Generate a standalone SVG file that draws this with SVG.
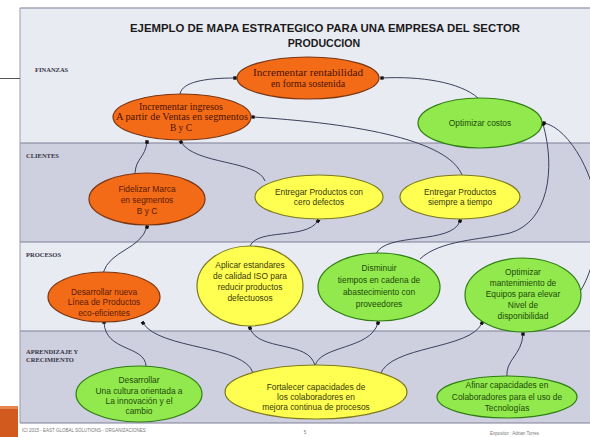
<svg xmlns="http://www.w3.org/2000/svg" width="590" height="437" viewBox="0 0 590 437">
<style>
.band-l{fill:#e9ebf2}
.band-d{fill:#cfd0df}
.sep{stroke:#7e7f95;stroke-width:1.2}
.lbl{font-family:"Liberation Serif",serif;font-weight:bold;font-size:6.5px;fill:#333344}
.title{font-family:"Liberation Sans",Arial,sans-serif;font-weight:bold;font-size:10.6px;fill:#1a1a1a;text-anchor:middle}
.or{fill:#f36b17;stroke:#7a3512;stroke-width:1.2}
.ye{fill:#ffff52;stroke:#7d7a1e;stroke-width:1.2}
.gr{fill:#92e94e;stroke:#2f7d14;stroke-width:1.2}
.t{font-family:"Liberation Sans",Arial,sans-serif;font-size:8.4px;text-anchor:middle}
.ts{font-family:"Liberation Serif",serif;font-size:9.5px;text-anchor:middle;fill:#4a1200}
.to{fill:#5a1a05}
.ty{fill:#3a3a10}
.tg{fill:#1d4a08}
.c{fill:none;stroke:#3b405c;stroke-width:1;marker-end:url(#dot)}
.foot{font-family:"Liberation Sans",Arial,sans-serif;font-size:4.5px;fill:#777}
</style>
<defs>
<marker id="dot" markerWidth="4" markerHeight="4" refX="2" refY="2" markerUnits="userSpaceOnUse" orient="auto">
<rect x="0.3" y="0.3" width="3.4" height="3.4" fill="#111"/>
</marker>
</defs>
<rect x="0" y="0" width="590" height="437" fill="#ffffff"/>
<g id="bands">
<rect class="band-l" x="20" y="8" width="570" height="135"/>
<rect class="band-d" x="20" y="143" width="570" height="99"/>
<rect class="band-l" x="20" y="242" width="570" height="89"/>
<rect class="band-d" x="20" y="331" width="570" height="92"/>
<line class="sep" x1="20" y1="8" x2="590" y2="8"/>
<line class="sep" x1="20" y1="143" x2="590" y2="143"/>
<line class="sep" x1="20" y1="242" x2="590" y2="242"/>
<line class="sep" x1="20" y1="331" x2="590" y2="331"/>
<line class="sep" x1="20" y1="423" x2="590" y2="423"/>
<line x1="20" y1="8" x2="20" y2="423" stroke="#9a9bb0" stroke-width="1"/>
<line x1="0" y1="78.5" x2="20" y2="78.5" stroke="#555" stroke-width="1"/>
<rect x="0" y="406" width="18" height="31" fill="#d25a1f"/>
<rect x="0" y="406" width="18" height="3" fill="#e4864e"/>
</g>
<g id="title">
<text class="title" x="325" y="32" textLength="390" lengthAdjust="spacingAndGlyphs">EJEMPLO DE MAPA ESTRATEGICO  PARA UNA EMPRESA DEL SECTOR</text>
<text class="title" x="324" y="47">PRODUCCION</text>
</g>
<g id="labels">
<text class="lbl" x="35" y="72">FINANZAS</text>
<text class="lbl" x="26" y="158">CLIENTES</text>
<text class="lbl" x="26" y="257">PROCESOS</text>
<text class="lbl" x="26" y="354">APRENDIZAJE Y</text>
<text class="lbl" x="26" y="362">CRECIMIENTO</text>
</g>
<g id="connectors">
<path class="c" d="M180 94 C182 82 205 78 235 78"/>
<path class="c" d="M478 98 C460 82 420 76 382 78"/>
<path class="c" d="M462 175 C450 145 380 125 253 117"/>
<path class="c" d="M135 173 C136 158 145 158 147 142"/>
<path class="c" d="M265 181 C258 160 195 165 181 142"/>
<path class="c" d="M103 273 C110 250 140 250 147 227"/>
<path class="c" d="M250 246 C258 228 305 240 318 221"/>
<path class="c" d="M376 254 C385 232 452 245 460 221"/>
<path class="c" d="M420 259 C440 240 480 240 510 233 C548 222 556 170 543 124"/>
<path class="c" d="M581 290 C590 275 598 250 598 220 C598 180 570 128 544 123"/>
<path class="c" d="M315 366 C320 345 370 350 378 323"/>
<path class="c" d="M380 375 C390 345 470 350 482 323"/>
<path class="c" d="M507 377 C505 360 522 355 523 334"/>
<path class="c" d="M146 366 C145 345 105 352 104 322"/>
<path class="c" d="M253 373 C245 345 160 350 143 323"/>
<path class="c" d="M315 366 C310 340 258 352 250 328"/>
</g>
<g id="n1"><ellipse class="or" cx="308" cy="78" rx="71" ry="21"/>
<text class="ts" font-size="10.5"><tspan x="308" y="76" textLength="110" lengthAdjust="spacingAndGlyphs">Incrementar rentabilidad</tspan><tspan x="308" y="87" textLength="74" lengthAdjust="spacingAndGlyphs">en forma sostenida</tspan></text></g>
<g id="n2"><ellipse class="or" cx="182" cy="117" rx="69" ry="23"/>
<text class="ts"><tspan x="181" y="110" textLength="84" lengthAdjust="spacingAndGlyphs">Incrementar ingresos</tspan><tspan x="182" y="120" textLength="132" lengthAdjust="spacingAndGlyphs">A partir de Ventas en segmentos</tspan><tspan x="181" y="131">B y C</tspan></text></g>
<g id="n3"><ellipse class="gr" cx="480" cy="123" rx="62" ry="25"/>
<text class="t tg" x="480" y="126">Optimizar costos</text></g>
<g id="n4"><ellipse class="or" cx="147" cy="199" rx="58" ry="26"/>
<text class="t to"><tspan x="147" y="192">Fidelizar Marca</tspan><tspan x="147" y="203">en segmentos</tspan><tspan x="147" y="214">B y C</tspan></text></g>
<g id="n5"><ellipse class="ye" cx="319" cy="197" rx="64" ry="22"/>
<text class="t ty"><tspan x="319" y="195">Entregar Productos con</tspan><tspan x="319" y="205">cero defectos</tspan></text></g>
<g id="n6"><ellipse class="ye" cx="460" cy="197" rx="60" ry="22"/>
<text class="t ty"><tspan x="460" y="195">Entregar Productos</tspan><tspan x="460" y="205">siempre a tiempo</tspan></text></g>
<g id="n7"><ellipse class="or" cx="104" cy="297" rx="56" ry="25"/>
<text class="t to"><tspan x="104" y="295">Desarrollar nueva</tspan><tspan x="104" y="305">Línea de Productos</tspan><tspan x="104" y="316">eco-eficientes</tspan></text></g>
<g id="n8"><ellipse class="ye" cx="250" cy="286" rx="53" ry="40"/>
<text class="t ty"><tspan x="250" y="268">Aplicar estandares</tspan><tspan x="250" y="279">de calidad ISO para</tspan><tspan x="250" y="290">reducir productos</tspan><tspan x="250" y="301">defectuosos</tspan></text></g>
<g id="n9"><ellipse class="gr" cx="379" cy="287" rx="61" ry="34"/>
<text class="t tg"><tspan x="379" y="271">Disminuir</tspan><tspan x="379" y="283">tiempos en cadena de</tspan><tspan x="379" y="295">abastecimiento con</tspan><tspan x="379" y="307">proveedores</tspan></text></g>
<g id="n10"><ellipse class="gr" cx="523" cy="295" rx="58" ry="37"/>
<text class="t tg"><tspan x="523" y="275">Optimizar</tspan><tspan x="523" y="286">mantenimiento de</tspan><tspan x="523" y="297">Equipos para elevar</tspan><tspan x="523" y="308">Nivel de</tspan><tspan x="523" y="319">disponibilidad</tspan></text></g>
<g id="n11"><ellipse class="gr" cx="139" cy="394" rx="63" ry="28"/>
<text class="t tg"><tspan x="139" y="383">Desarrollar</tspan><tspan x="139" y="394">Una cultura orientada a</tspan><tspan x="139" y="404">La innovación y el</tspan><tspan x="139" y="414">cambio</tspan></text></g>
<g id="n12"><ellipse class="ye" cx="316" cy="392" rx="91" ry="27"/>
<text class="t ty"><tspan x="316" y="390">Fortalecer capacidades de</tspan><tspan x="316" y="400">los colaboradores en</tspan><tspan x="316" y="410">mejora continua de procesos</tspan></text></g>
<g id="n13"><ellipse class="gr" cx="507" cy="397" rx="70" ry="21"/>
<text class="t tg"><tspan x="507" y="388">Afinar capacidades en</tspan><tspan x="507" y="400">Colaboradores para el uso de</tspan><tspan x="507" y="411">Tecnologías</tspan></text></g>
<g id="footer">
<text class="foot" x="22" y="432">ICI 2015 - EAST GLOBAL SOLUTIONS - ORGANIZACIONES</text>
<text class="foot" x="305" y="434" font-size="7" text-anchor="middle" fill="#666">5</text>
<text class="foot" x="490" y="435">Expositor : Adrian Torres</text>
</g>
</svg>
